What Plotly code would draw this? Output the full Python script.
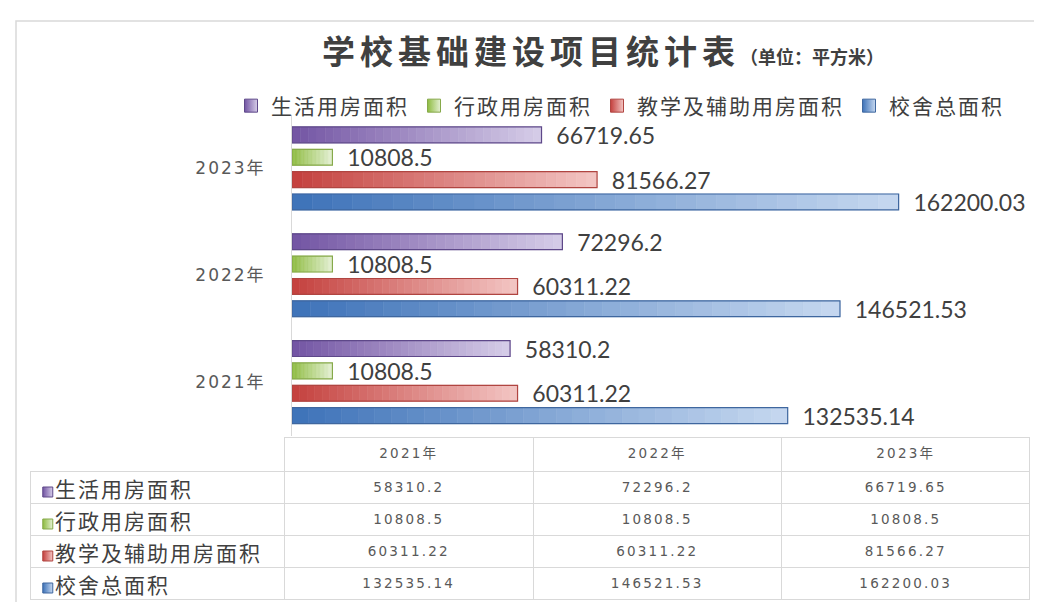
import plotly.graph_objects as go

# ---------------- data ----------------
years = ["2021年", "2022年", "2023年"]
series_names = ["生活用房面积", "行政用房面积", "教学及辅助用房面积", "校舍总面积"]
living = [58310.2, 72296.2, 66719.65]
admin = [10808.5, 10808.5, 10808.5]
teaching = [60311.22, 60311.22, 81566.27]
total = [132535.14, 146521.53, 162200.03]
title_text = "学校基础建设项目统计表"
unit_text = "（单位：平方米）"

series_values = [living, admin, teaching, total]

# ---------------- styles ----------------
dark = ["#7254a3", "#8dbb3f", "#c4403d", "#3d72b8"]
light = ["#d6cde8", "#e4f0d3", "#f3c6c4", "#c6d8f0"]
edge = ["#5e4889", "#86a94a", "#b04541", "#3f679f"]
N_SEG = 30
W, H = 1042, 602
TXT = "#595959"
CLEAR = "rgba(0,0,0,0)"


def hex2rgb(h):
    h = h.lstrip("#")
    return tuple(int(h[i:i + 2], 16) for i in (0, 2, 4))


def mix(c1, c2, t):
    a, b = hex2rgb(c1), hex2rgb(c2)
    return "rgb(%d,%d,%d)" % tuple(round(a[k] + (b[k] - a[k]) * t) for k in range(3))


def spaced(txt, px):
    return "<span style='letter-spacing:%spx'>%s</span>" % (px, txt)


def styled(txt, css):
    # styled run without a bare space after the tag name (table-safe markup)
    return "<a href='#'style='%s'>%s</a>" % (css, txt)


fig = go.Figure()

# bars are added bottom-to-top within each group (blue first -> bottom)
order = [3, 2, 1, 0]
for s in order:
    vals = series_values[s]
    grp = "g%d" % s
    for i in range(N_SEG):
        t = (i + 0.5) / N_SEG
        col = mix(dark[s], light[s], t)
        fig.add_trace(go.Bar(
            orientation="h", y=years,
            x=[v / N_SEG for v in vals],
            base=[v * i / N_SEG for v in vals],
            offsetgroup=grp,
            marker=dict(color=col, line=dict(color=col, width=0.6)),
            showlegend=False, hoverinfo="skip",
        ))
    fig.add_trace(go.Bar(
        orientation="h", y=years, x=vals, base=[0] * len(vals),
        offsetgroup=grp, name=series_names[s],
        marker=dict(color=CLEAR, line=dict(color=edge[s], width=1.2)),
        text=[str(v) for v in vals],
        texttemplate="\u00a0\u00a0%{text}",
        textposition="outside", cliponaxis=False, constraintext="none",
        outsidetextfont=dict(family="Lato, Open Sans, sans-serif", size=23, color="#404040"),
        showlegend=False,
    ))

# legend entries (in original order)
for s in range(4):
    fig.add_trace(go.Scatter(
        x=[None], y=[None], mode="markers", name=spaced(series_names[s], 2),
        marker=dict(symbol="square", size=13, color=dark[s],
                    gradient=dict(type="horizontal", color=light[s]),
                    line=dict(color=edge[s], width=1)),
        showlegend=True,
    ))

# data table (row-label column is drawn by the keyed scatter below, seen through clear cells)
NUM_CSS = "letter-spacing:2.2px;color:%s" % TXT
year_cols = []
for j in range(len(years)):
    year_cols.append([styled(str(series_values[s][j]), NUM_CSS) for s in range(4)])

fig.add_trace(go.Table(
    domain=dict(x=[22 / W, 1022 / W], y=[0, 1 - 429 / H]),
    columnwidth=[254, 248, 248, 248],
    header=dict(
        values=[""] + [styled(y, NUM_CSS) for y in years],
        align="center", height=34,
        fill=dict(color=CLEAR),
        line=dict(color=[CLEAR, "#d9d9d9", "#d9d9d9", "#d9d9d9"], width=1),
        font=dict(family="DejaVu Sans, Noto Sans CJK SC", size=13.5, color=TXT),
    ),
    cells=dict(
        values=[[""] * 4] + year_cols,
        align=["left", "center", "center", "center"], height=32,
        fill=dict(color=CLEAR),
        line=dict(color="#d9d9d9", width=1),
        font=dict(family="DejaVu Sans, Noto Sans CJK SC", size=13.5, color=TXT),
    ),
))

# row labels with colour keys for the table
fig.add_trace(go.Scatter(
    x=[0] * 4, y=series_names, xaxis="x2", yaxis="y2",
    mode="markers+text",
    marker=dict(symbol="square", size=10, color=dark,
                gradient=dict(type="horizontal", color=light),
                line=dict(color=edge, width=1)),
    text=[spaced(n, 2) for n in series_names],
    textposition="middle right",
    textfont=dict(family="Noto Sans CJK SC", size=21, color="#404040"),
    showlegend=False, hoverinfo="skip", cliponaxis=False,
))

fig.update_layout(
    width=W, height=H,
    margin=dict(l=0, r=0, t=0, b=0),
    paper_bgcolor="white", plot_bgcolor="white",
    barmode="group", bargap=0.163, bargroupgap=0.29,
    title=dict(
        text=spaced(title_text, 5) + "<span style='font-size:18px'>%s</span>" % unit_text,
        x=314 / W, xanchor="left", xref="paper",
        y=1 - 44 / H, yanchor="middle", yref="paper",
        font=dict(family="Noto Sans CJK SC", size=33, color="#404040", weight="bold"),
    ),
    legend=dict(
        orientation="h", x=612 / W, xanchor="center", y=1 - 98 / H, yanchor="middle",
        font=dict(family="Noto Sans CJK SC", size=21, color="#404040"),
        itemwidth=30, traceorder="normal", bgcolor=CLEAR,
    ),
    xaxis=dict(domain=[284 / W, 1032 / W], range=[0, 200000], visible=False,
               showgrid=False, zeroline=False),
    yaxis=dict(domain=[1 - 427.5 / H, 1 - 107 / H], type="category",
               categoryorder="array", categoryarray=years,
               tickvals=years, ticktext=[spaced(y, 2) for y in years],
               showline=True, linecolor="#d9d9d9", linewidth=1,
               showgrid=False, zeroline=False, ticks="",
               ticklabelstandoff=22,
               tickfont=dict(family="DejaVu Sans, Noto Sans CJK SC", size=17, color=TXT)),
    xaxis2=dict(domain=[30 / W, 284 / W], range=[-0.04, 1], visible=False, fixedrange=True),
    yaxis2=dict(domain=[1 - 596 / H, 1 - 468 / H], type="category",
                categoryorder="array", categoryarray=series_names,
                range=[len(series_names) - 0.5, -0.5],
                visible=False, fixedrange=True, anchor="x2"),
    shapes=[dict(type="rect", xref="paper", yref="paper",
                 x0=8 / W, x1=1.02, y0=-0.02, y1=1 - 13 / H,
                 line=dict(color="#d9d9d9", width=1.5), fillcolor=CLEAR, layer="below")],
)

fig.write_html("out.html")
